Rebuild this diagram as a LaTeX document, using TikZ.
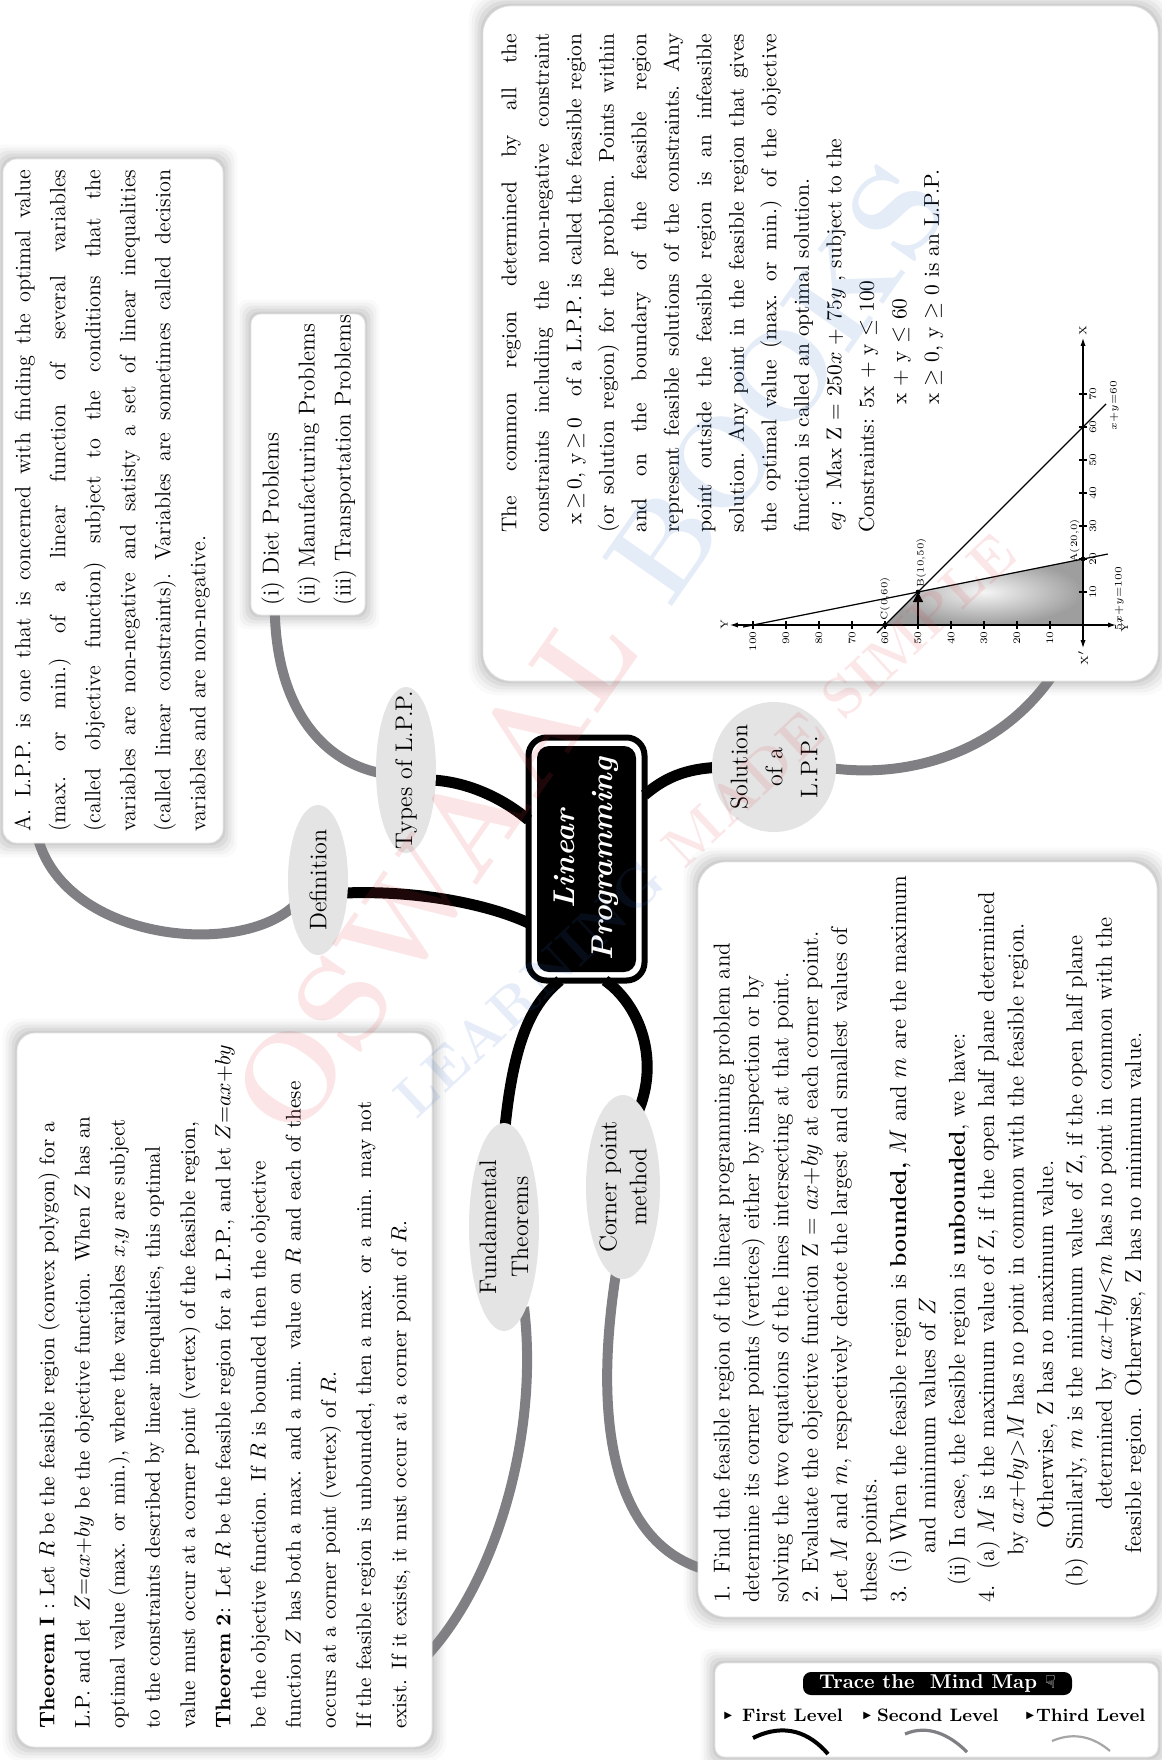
\documentclass[tikz,border=0pt]{standalone}
\usepackage{fontspec}
\newfontfamily\dejavu{DejaVu Sans}
\usetikzlibrary{arrows.meta,shapes.geometric}
\pgfdeclarelayer{paper}
\pgfdeclarelayer{glowlayer}
\pgfdeclarelayer{bg}
\pgfsetlayers{paper,glowlayer,bg,main}
\definecolor{lvlgray}{RGB}{128,128,132}
\definecolor{ellfill}{RGB}{228,228,228}
\definecolor{wmred}{RGB}{225,60,70}
\definecolor{wmblue}{RGB}{50,110,200}
\newcommand\jl[2]{\leavevmode{\spaceskip=0.33em plus 1em minus 0.04em\relax\xspaceskip=0.4em plus 1em minus 0.04em\relax\hbox to #1{#2}}}
\newcommand\boxglow[2]{%
  \foreach \gd/\go in {7/0.02,5.5/0.03,4/0.04,2.5/0.05,1/0.06}{%
    \fill[black,opacity=\go,rounded corners=#2]
      ([shift={(-\gd pt,-\gd pt)}]#1.south west) rectangle ([shift={(\gd pt,\gd pt)}]#1.north east);}}
\newcommand\legtri{\raisebox{1.5pt}{\dejavu\fontsize{5}{5}\selectfont ▶}}
\begin{document}
\begin{tikzpicture}[x=0.5pt,y=-0.5pt,
  lvlone/.style={line width=5.5pt,draw=black},
  lvltwo/.style={line width=5pt,draw=lvlgray},
  textbox/.style={fill=white,draw=black!10,line width=0.3pt,inner sep=0},
  topic/.style={ellipse,fill=ellfill,inner sep=0,rotate=90},
  topictext/.style={rotate=90,inner sep=0,align=center,font=\fontsize{12}{16}\selectfont},
  body/.style={rotate=90,anchor=north west,inner sep=0,align=left,text width=400pt},
  gline/.style={line width=0.6pt},
  ticklab/.style={font=\fontsize{5}{6}\selectfont,inner sep=1pt},
  ptl/.style={font=\fontsize{4.8}{6}\selectfont,inner sep=0.5pt},
  legtext/.style={anchor=base west,inner sep=0,font=\bfseries\fontsize{9}{10}\selectfont}
]
\begin{pgfonlayer}{paper}
\fill[white] (0,0) rectangle (1161,1760);
\end{pgfonlayer}
\useasboundingbox (0,0) rectangle (1161,1760);

% ---------- text boxes ----------
\node[textbox,rounded corners=7pt,minimum width=110pt,minimum height=342pt] (defbox) at (113,501) {};
\node[textbox,rounded corners=5pt,minimum width=57pt,minimum height=150.5pt] (typesbox) at (308,464.5) {};
\node[textbox,rounded corners=14pt,minimum width=337.5pt,minimum height=337.5pt] (solbox) at (820.5,343.5) {};
\node[textbox,rounded corners=9pt,minimum width=207.5pt,minimum height=357pt] (thmbox) at (224.5,1390) {};
\node[textbox,rounded corners=14pt,minimum width=229.5pt,minimum height=377.5pt] (cornbox) at (927.5,1239.5) {};
\node[textbox,rounded corners=5pt,minimum width=221.5pt,minimum height=47pt] (legbox) at (936.5,1710) {};

% ---------- body texts ----------
\node[body,font=\fontsize{11.1}{17.5}\selectfont] (deftext) at (14,832) {%
\jl{331pt}{A. L.P.P. is one that is concerned with finding the optimal value}\\
\jl{331pt}{(max. or min.) of a linear function of several variables}\\
\jl{331pt}{(called objective function) subject to the conditions that the}\\
\jl{331pt}{variables are non-negative and satisty a set of linear inequalities}\\
\jl{331pt}{(called linear constraints). Variables are sometimes called decision}\\
variables and are non-negative.};

\node[body,font=\fontsize{11.5}{18}\selectfont] (typestext) at (261,606) {(i) Diet Problems\\(ii) Manufacturing Problems\\(iii) Transportation Problems};

\node[body,font=\fontsize{10.7}{16.25}\selectfont] (soltext) at (501,533) {%
\jl{249.5pt}{The common region determined by all the}\\
\jl{249.5pt}{constraints including the non-negative constraint}\\
\jl{249.5pt}{\hspace*{4pt}x\,$\geq$\,0, y\,$\geq$\,0\hspace{7pt} of a L.P.P. is called the feasible region}\\
\jl{249.5pt}{(or solution region) for the problem. Points within}\\
\jl{249.5pt}{and on the boundary of the feasible region}\\
\jl{249.5pt}{represent feasible solutions of the constraints. Any}\\
\jl{249.5pt}{point outside the feasible region is an infeasible}\\
\jl{249.5pt}{solution. Any point in the feasible region that gives}\\
\jl{249.5pt}{the optimal value (max. or min.) of the objective}\\
function is called an optimal solution.\\
\textit{eg} : Max Z = 250$x$ + 75$y$ , subject to the\\
Constraints: 5x + y $\leq$ 100\\
\hspace*{64pt}x + y $\leq$ 60\\
\hspace*{64pt}x $\geq$ 0, y $\geq$ 0 is an L.P.P.};

\node[body,font=\fontsize{10.6}{17.6}\selectfont] (thmtext) at (38,1729) {%
\textbf{Theorem I} : Let $R$ be the feasible region (convex polygon) for a\\
L.P. and let $Z{=}ax{+}by$ be the objective function. When $Z$ has an\\
optimal value (max. or min.), where the variables $x{,}y$ are subject\\
to the constraints described by linear inequalities, this optimal\\
value must occur at a corner point (vertex) of the feasible region,\\
\textbf{Theorem 2}: Let $R$ be the feasible region for a L.P.P., and let $Z{=}ax{+}by$\\
be the objective function. If $R$ is bounded then the objective\\
function $Z$ has both a max. and a min. value on $R$ and each of these\\
occurs at a corner point (vertex) of $R$.\\
If the feasible region is unbounded, then a max. or a min. may not\\
exist. If it exists, it must occur at a corner point of $R$.};

\node[body,font=\fontsize{11.5}{14.7}\selectfont] (corntext) at (713,1603) {%
1. Find the feasible region of the linear programming problem and\\
determine its corner points (vertices) either by inspection or by\\
solving the two equations of the lines intersecting at that point.\\
2. Evaluate the objective function Z = $ax{+}by$ at each corner point.\\
Let $M$ and $m$, respectively denote the largest and smallest values of\\
these points.\\
3. (i) When the feasible region is \textbf{bounded,} $M$ and $m$ are the maximum\\
\hspace*{24.5pt}and minimum values of $Z$\\
\hspace*{8.5pt}(ii) In case, the feasible region is \textbf{unbounded}, we have:\\
4.\ \ (a) $M$ is the maximum value of Z, if the open half plane determined\\
\hspace*{23.5pt}by $ax{+}by{>}M$ has no point in common with the feasible region.\\
\hspace*{37pt}Otherwise, Z has no maximum value.\\
\hspace*{7.5pt}(b) Similarly, $m$ is the minimum value of Z, if the open half plane\\
\hspace*{46.5pt}determined by $ax{+}by{<}m$ has no point in common with the\\
\hspace*{24.5pt}feasible region. Otherwise, Z has no minimum value.};

% ---------- graph ----------
\begin{scope}[shift={(1083,625)},x=1.65pt,y=1.65pt,rotate=90,transform shape]
  \shade[inner color=black!4,outer color=black!38] (0,0) -- (20,0) -- (10,50) -- (0,60) -- cycle;
  \coordinate (gO) at (0,0);
  \coordinate (gA) at (20,0);
  \coordinate (gB) at (10,50);
  \coordinate (gC) at (0,60);
  \coordinate (gB0) at (0,50);
  \draw[gline,{Latex[length=4pt,width=2.6pt]}-{Latex[length=4pt,width=2.6pt]}] (-7,0) -- (87,0);
  \draw[gline,{Latex[length=4pt,width=2.6pt]}-{Latex[length=4pt,width=2.6pt]}] (0,-10) -- (0,107);
  \foreach \v in {10,20,...,70}{
    \draw[gline] (\v,-1.2) -- (\v,1.2);
    \node[ticklab,below] (xt\v) at (\v,-1.2) {\v};}
  \foreach \v in {10,20,...,100}{
    \draw[gline] (-1.2,\v) -- (1.2,\v);
    \node[ticklab,left] (yt\v) at (-1.2,\v) {\v};}
  \node[ticklab,right] (axX) at (87,0) {X};
  \node[ticklab,left] (axXp) at (-7,0) {X$'$};
  \node[ticklab,above] (axY) at (0,107) {Y};
  \node[ticklab,below] (axYp) at (0,-10) {Y$'$};
  \draw[gline] (-0.6,103) -- (21.5,-7.5);
  \draw[gline] (-2.4,62.4) -- (67,-7);
  \draw[gline,-{Triangle[length=5pt,width=5pt]}] (gB0) -- (gB);
  \fill (gA) circle (1.2pt);
  \fill (gB) circle (1.2pt);
  \fill (gC) circle (1.2pt);
  \node[ptl,anchor=south west] (lA) at (18.5,0.6) {A(20,0)};
  \node[ptl,anchor=west] (lB) at (11,49) {B(10,50)};
  \node[ptl,anchor=west] (lC) at (1,60) {C(0,60)};
  \node[ptl] (eq1) at (8,-11) {$5x{+}y{=}100$};
  \node[ptl] (eq2) at (66.5,-9.5) {$x{+}y{=}60$};
\end{scope}

% ---------- central node ----------
\node[draw=black,line width=3pt,rounded corners=9pt,minimum width=58pt,minimum height=121.5pt,inner sep=0] (lpframe) at (586.5,859) {};
\node[rotate=90,fill=black,rounded corners=6pt,minimum width=113pt,minimum height=49.5pt,inner sep=0,text=white,align=center,font=\bfseries\itshape\fontsize{15}{19}\selectfont] (lp) at (586.5,859) {Linear\\Programming};

% ---------- topic ellipses ----------
\node[topic,minimum width=75pt,minimum height=30pt] (defl) at (318,880) {};
\node[topictext] (deft) at (defl.center) {Definition};
\node[topic,minimum width=83pt,minimum height=30pt] (typesl) at (406,770) {};
\node[topictext] (typest) at (typesl.center) {Types of L.P.P.};
\node[topic,minimum width=65pt,minimum height=62pt] (soll) at (774,767) {};
\node[topictext,font=\fontsize{12}{17.5}\selectfont] (solt) at (soll.center) {Solution\\of a\\L.P.P.};
\node[topic,minimum width=104pt,minimum height=35pt] (fundl) at (504,1227) {};
\node[topictext] (fundt) at (fundl.center) {Fundamental\\Theorems};
\node[topic,minimum width=92pt,minimum height=37pt] (cornl) at (623,1187) {};
\node[topictext,font=\fontsize{12}{15}\selectfont] (cornt) at (cornl.center) {Corner point\\method};

% ---------- legend ----------
\node[fill=black,rounded corners=4pt,text=white,font=\bfseries\fontsize{10}{12}\selectfont,minimum width=134.5pt,minimum height=11.5pt,inner sep=0] (legtitle) at (937.5,1683.5) {Trace the\ \ Mind Map {\dejavu\fontsize{9}{10}\selectfont ☟}};
\node[legtext] (lev1) at (724,1721) {\legtri\hspace{5pt}First Level};
\node[legtext] (lev2) at (863,1721) {\legtri\hspace{3pt}Second Level};
\node[legtext] (lev3) at (1026,1721) {\legtri\hspace{1pt}Third Level};
\draw[line width=2pt] (753,1738) .. controls (785,1722) and (810,1733) .. (828,1754);
\draw[line width=1.6pt,draw=lvlgray] (905,1734) .. controls (928,1724) and (950,1735) .. (967,1752);
\draw[line width=1.1pt,draw=black!35] (1052,1741) .. controls (1075,1731) and (1095,1738) .. (1110,1751);

% ---------- connectors ----------
\begin{pgfonlayer}{bg}
  \draw[lvlone] ([shift={(13pt,-6.5pt)}]defl.center) .. controls (420,890) and (490,905) .. ([shift={(-29pt,-32pt)}]lp.center);
  \draw[lvlone] ([shift={(13pt,-5pt)}]typesl.center) .. controls (470,782) and (505,800) .. ([shift={(-29pt,19.5pt)}]lp.center);
  \draw[lvlone] ([shift={(29pt,32pt)}]lp.center) .. controls (668,775) and (690,768) .. ([shift={(-25pt,0pt)}]soll.center);
  \draw[lvlone] ([shift={(-13.25pt,-60.75pt)}]lp.center) .. controls (525,1010) and (495,1060) .. ([shift={(-2pt,-45pt)}]fundl.center);
  \draw[lvlone] ([shift={(9.25pt,-60.75pt)}]lp.center) .. controls (640,1005) and (660,1060) .. ([shift={(7.5pt,37.5pt)}]cornl.center);
  \draw[lvltwo] ([shift={(-11pt,-12pt)}]defl.center) .. controls (240,960) and (60,940) .. ([shift={(17pt,5pt)}]defbox.south west);
  \draw[lvltwo] ([shift={(-10pt,-2pt)}]typesl.center) .. controls (325,765) and (275,710) .. ([shift={(12pt,5pt)}]typesbox.south west);
  \draw[lvltwo] ([shift={(25pt,0pt)}]soll.center) .. controls (900,780) and (999,757) .. ([shift={(-51.5pt,5pt)}]solbox.south east);
  \draw[lvltwo] ([shift={(10pt,-40pt)}]fundl.center) .. controls (540,1440) and (492,1590) .. ([shift={(-5pt,43.5pt)}]thmbox.south east);
  \draw[lvltwo] ([shift={(-3pt,-40pt)}]cornl.center) .. controls (592,1420) and (612,1545) .. ([shift={(5pt,23.5pt)}]cornbox.south west);
\end{pgfonlayer}

% ---------- box shadows ----------
\begin{pgfonlayer}{glowlayer}
  \boxglow{defbox}{7pt}
  \boxglow{typesbox}{5pt}
  \boxglow{solbox}{14pt}
  \boxglow{thmbox}{9pt}
  \boxglow{cornbox}{14pt}
  \boxglow{legbox}{5pt}
\end{pgfonlayer}

% ---------- watermark ----------
\node[rotate=55,opacity=0.13,inner sep=0,font=\bfseries\fontsize{62}{62}\selectfont] (wm1) at (590,650) {\textcolor{wmred}{OSWAAL} \textcolor{wmblue}{BOOKS}};
\node[rotate=43,opacity=0.12,inner sep=0,font=\bfseries\fontsize{28}{28}\selectfont] (wm2) at (705,825) {\textcolor{wmblue}{LEARNING} \textcolor{wmred}{MADE SIMPLE}};
\end{tikzpicture}
\end{document}
